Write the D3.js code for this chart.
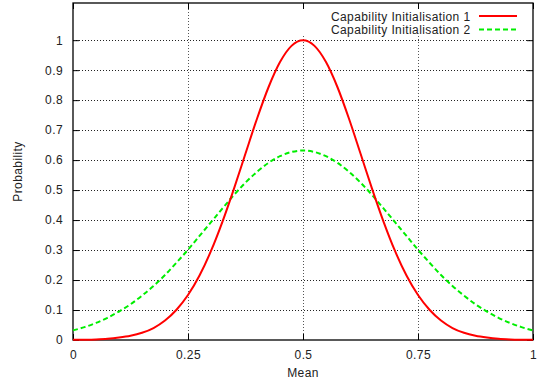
<!DOCTYPE html>
<html>
<head>
<meta charset="utf-8">
<script src="https://cdn.jsdelivr.net/npm/d3@7"></script>
<style>
  html, body { margin: 0; padding: 0; background: #fff; }
  svg text { font-family: "Liberation Sans", Arial, Helvetica, sans-serif; fill: #222; }
</style>
</head>
<body>
<svg id="chart" width="537" height="386"></svg>
<script>
// ---- data ----
const meanValues = [0, 0.025, 0.05, 0.075, 0.1, 0.125, 0.15, 0.175, 0.2, 0.225, 0.25, 0.275, 0.3, 0.325, 0.35, 0.375, 0.4, 0.425, 0.45, 0.475, 0.5,
                    0.525, 0.55, 0.575, 0.6, 0.625, 0.65, 0.675, 0.7, 0.725, 0.75, 0.775, 0.8, 0.825, 0.85, 0.875, 0.9, 0.925, 0.95, 0.975, 1];
const series1Values = [0.0005, 0.001, 0.002, 0.004, 0.008, 0.014, 0.024, 0.040, 0.065, 0.101, 0.150, 0.215, 0.297, 0.395, 0.505, 0.622, 0.738, 0.843, 0.927, 0.981, 1.0,
                       0.981, 0.927, 0.843, 0.738, 0.622, 0.505, 0.395, 0.297, 0.215, 0.150, 0.101, 0.065, 0.040, 0.024, 0.014, 0.008, 0.004, 0.002, 0.001, 0.0005];
const series2Values = [0.032, 0.043, 0.057, 0.074, 0.095, 0.119, 0.148, 0.180, 0.217, 0.258, 0.301, 0.347, 0.393, 0.439, 0.484, 0.525, 0.561, 0.591, 0.613, 0.627, 0.632,
                       0.627, 0.613, 0.591, 0.561, 0.525, 0.484, 0.439, 0.393, 0.347, 0.301, 0.258, 0.217, 0.180, 0.148, 0.119, 0.095, 0.074, 0.057, 0.043, 0.032];
const seriesNames = ["Capability Initialisation 1", "Capability Initialisation 2"];
const xTickValues = [0, 0.25, 0.5, 0.75, 1];
const xTickLabels = ["0", "0.25", "0.5", "0.75", "1"];
const yTickValues = [0, 0.1, 0.2, 0.3, 0.4, 0.5, 0.6, 0.7, 0.8, 0.9, 1];
const yTickLabels = ["0", "0.1", "0.2", "0.3", "0.4", "0.5", "0.6", "0.7", "0.8", "0.9", "1"];
const xTitle = "Mean";
const yTitle = "Probability";

// ---- layout ----
const L = 73, R = 533, T = 3, B = 340;
const svg = d3.select("#chart");
const x = d3.scaleLinear().domain([0, 1]).range([L, R]);
const y = d3.scaleLinear().domain([0, 1.124]).range([B, T]);
const colors = ["#ff0000", "#00ee00"];
const fontSize = "12px", letterSpacing = "0.4px";

// grid
const grid = svg.append("g");
grid.selectAll("line.h").data(yTickValues.filter(v => v > 0)).enter().append("line")
  .attr("x1", L).attr("x2", R).attr("y1", d => Math.round(y(d)) + 0.5).attr("y2", d => Math.round(y(d)) + 0.5)
  .attr("stroke", "#222").attr("stroke-width", 1).attr("stroke-dasharray", "1,2");
grid.selectAll("line.v").data(xTickValues.filter(v => v > 0 && v < 1)).enter().append("line")
  .attr("y1", T).attr("y2", B).attr("x1", d => Math.round(x(d)) + 0.5).attr("x2", d => Math.round(x(d)) + 0.5)
  .attr("stroke", "#555").attr("stroke-width", 1).attr("stroke-dasharray", "1,2");

// legend blank area
svg.append("rect").attr("x", 297).attr("y", T).attr("width", R - 297).attr("height", 33).attr("fill", "#fff");

// axes (ticks inward, mirrored)
const xAxisB = d3.axisBottom(x).tickValues(xTickValues).tickFormat((d, i) => xTickLabels[i]).tickSizeInner(-6).tickSizeOuter(0).tickPadding(10);
const xAxisT = d3.axisTop(x).tickValues(xTickValues).tickFormat("").tickSizeInner(-6).tickSizeOuter(0);
const yAxisL = d3.axisLeft(y).tickValues(yTickValues).tickFormat((d, i) => yTickLabels[i]).tickSizeInner(-6).tickSizeOuter(0).tickPadding(10);
const yAxisR = d3.axisRight(y).tickValues(yTickValues).tickFormat("").tickSizeInner(-6).tickSizeOuter(0);

function styleAxis(g) {
  g.select(".domain").remove();
  g.selectAll(".tick line").attr("stroke", "#000").attr("stroke-width", 1);
  g.selectAll(".tick text").attr("font-size", fontSize).style("letter-spacing", letterSpacing).attr("fill", "#222");
}
svg.append("g").attr("transform", `translate(0,${B})`).call(xAxisB).call(styleAxis);
svg.append("g").attr("transform", `translate(0,${T})`).call(xAxisT).call(styleAxis);
svg.append("g").attr("transform", `translate(${L},0)`).call(yAxisL).call(styleAxis);
svg.append("g").attr("transform", `translate(${R},0)`).call(yAxisR).call(styleAxis);

// border
svg.append("rect").attr("x", L).attr("y", T).attr("width", R - L).attr("height", B - T)
  .attr("fill", "none").attr("stroke", "#000").attr("stroke-width", 1.3);

// lines
const line = d3.line().x(d => x(d[0])).y(d => y(d[1])).curve(d3.curveMonotoneX);
const data1 = meanValues.map((m, i) => [m, series1Values[i]]);
const data2 = meanValues.map((m, i) => [m, series2Values[i]]);
svg.append("path").datum(data2).attr("d", line).attr("fill", "none")
  .attr("stroke", colors[1]).attr("stroke-width", 2).attr("stroke-dasharray", "5,3");
svg.append("path").datum(data1).attr("d", line).attr("fill", "none")
  .attr("stroke", colors[0]).attr("stroke-width", 2);

// legend
const legendRows = [20.5, 34];
seriesNames.forEach((name, i) => {
  svg.append("text").attr("x", 470.5).attr("y", legendRows[i]).attr("text-anchor", "end")
    .attr("font-size", fontSize).style("letter-spacing", letterSpacing).text(name);
  svg.append("line").attr("x1", 479).attr("x2", 517)
    .attr("y1", legendRows[i] - 4.5).attr("y2", legendRows[i] - 4.5)
    .attr("stroke", colors[i]).attr("stroke-width", 2)
    .attr("stroke-dasharray", i === 1 ? "5,3" : null);
});

// titles
svg.append("text").attr("x", (L + R) / 2).attr("y", 377).attr("text-anchor", "middle")
  .attr("font-size", fontSize).style("letter-spacing", letterSpacing).text(xTitle);
svg.append("text").attr("transform", `translate(22,${(T + B) / 2}) rotate(-90)`).attr("text-anchor", "middle")
  .attr("font-size", fontSize).style("letter-spacing", letterSpacing).text(yTitle);
</script>
</body>
</html>
